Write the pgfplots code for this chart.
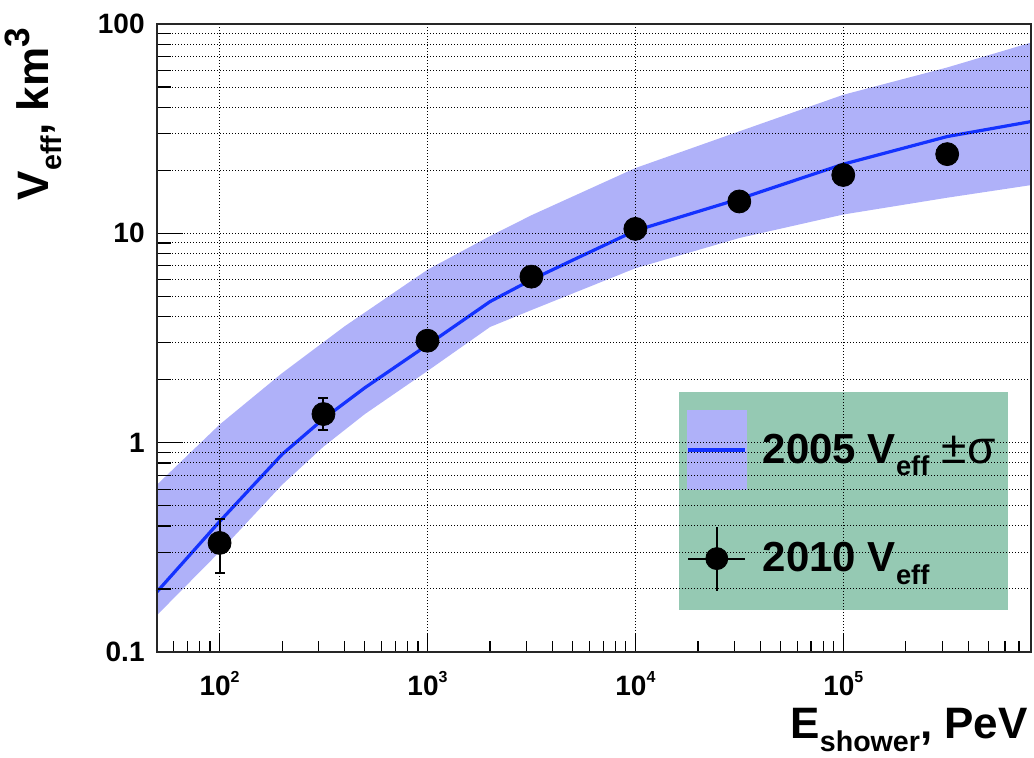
\documentclass[border=0pt]{standalone}
\usepackage{fontspec}
\setmainfont{Liberation Sans}
\usepackage{graphicx}
\usepackage{pgfplots}
\pgfplotsset{compat=1.18}
\usepgfplotslibrary{fillbetween}

\definecolor{bandBlue}{RGB}{175,177,249}
\definecolor{lineBlue}{RGB}{20,50,255}
\definecolor{legGreen}{RGB}{149,201,179}
\definecolor{frameRed}{RGB}{215,40,20}

\newcommand{\lsub}[1]{\raisebox{-0.3em}{\scalebox{0.65}{#1}}}
\newcommand{\lsup}[1]{\raisebox{0.42em}{\scalebox{0.8}{#1}}}
\newcommand{\tsup}[1]{\raisebox{0.46em}{\scalebox{0.57}{#1}}}

\begin{document}
\begin{tikzpicture}
  \begin{axis}[
      at={(0,0)}, anchor=south west,
      scale only axis, width=437pt, height=314pt,
      xmode=log, ymode=log,
      xmin=50, xmax=8e5, ymin=0.1, ymax=100,
      clip=false, axis on top,
      tick pos=left, tick align=inside,
      major tick length=13pt, minor tick length=7pt,
      xtick style={/pgfplots/major tick length=9pt, /pgfplots/minor tick length=5.5pt},
      every tick/.style={black, line width=0.6pt},
      xtick={100,1000,10000,100000},
      xticklabels={10\tsup{2},10\tsup{3},10\tsup{4},10\tsup{5}},
      minor xtick={60,70,80,90,200,300,400,500,600,700,800,900,
        2000,3000,4000,5000,6000,7000,8000,9000,
        20000,30000,40000,50000,60000,70000,80000,90000,
        200000,300000,400000,500000,600000,700000},
      ytick={0.1,1,10,100},
      yticklabels={0.1,1,10,100},
      minor ytick={0.2,0.3,0.4,0.5,0.6,0.7,0.8,0.9,2,3,4,5,6,7,8,9,20,30,40,50,60,70,80,90},
      xmajorgrids, ymajorgrids, yminorgrids,
      grid style={black, line width=0.5pt, dash pattern=on 0.5pt off 1pt},
      minor grid style={black, line width=0.5pt, dash pattern=on 0.5pt off 1pt},
      axis line style={black!85, line width=0.7pt},
      tick label style={font=\fontsize{14}{14}\selectfont\bfseries, inner sep=0pt},
      xticklabel style={anchor=base, yshift=-21.5pt},
      yticklabel style={anchor=east, xshift=-6pt},
      xlabel={E\lsub{shower}, PeV},
      ylabel={V\lsub{eff}, km\lsup{3}},
      xlabel style={at={(axis description cs:0.9966,-0.137)}, anchor=base east,
        inner sep=0pt, font=\fontsize{22}{22}\selectfont\bfseries},
      ylabel style={at={(axis description cs:-0.1247,0.994)}, anchor=base east,
        inner sep=0pt, font=\fontsize{22}{22}\selectfont\bfseries},
      legend cell align=left,
      legend style={at={(axis description cs:0.9737,0.0669)}, anchor=south east,
        fill=legGreen, draw=none, inner xsep=4pt, inner ysep=9pt, row sep=18pt,
        font=\fontsize{21}{23}\selectfont\bfseries,
        /tikz/every odd column/.append style={column sep=6pt}},
    ]
    % 2005 band (+-sigma)
    \addplot[name path=upper, draw=none, forget plot] coordinates {
      (50,0.63) (100,1.22) (200,2.15) (400,3.6) (1000,6.7) (2000,9.7)
      (3162,12.2) (10000,20.5) (31623,30.7) (100000,45.9) (316228,62) (800000,81.5)};
    \addplot[name path=lower, draw=none, forget plot] coordinates {
      (50,0.150) (100,0.301) (200,0.63) (316,0.957) (500,1.37) (1000,2.2)
      (2000,3.57) (3162,4.3) (10000,6.81) (31623,9.5) (100000,12.3) (316228,14.8) (800000,17.0)};
    \addplot[bandBlue, forget plot] fill between[of=upper and lower];
    % 2005 Veff
    \addplot[lineBlue, line width=1.6pt,
      legend image code/.code={
        \fill[bandBlue] (0pt,-19pt) rectangle (28.5pt,19pt);
        \draw[lineBlue, line width=1.6pt] (0pt,0pt) -- (28.5pt,0pt);}]
      coordinates {
      (50,0.194) (100,0.42) (200,0.88) (316,1.30) (500,1.83) (1000,2.93)
      (2000,4.72) (3162,6.0) (5000,7.45) (10000,10.3) (31623,14.6)
      (100000,21.4) (316228,29.0) (800000,34.2)};
    \addlegendentry{2005 V\lsub{eff}\hspace{0.3em}{\mdseries\fontsize{23}{23}\selectfont ±σ}}
    % 2010 Veff
    \addplot[only marks, mark=*, mark size=5.75pt, black,
      error bars/.cd, y dir=both, y explicit,
      error bar style={line width=1pt, black},
      error mark options={rotate=90, mark size=2.5pt, line width=1pt},
      /pgfplots/legend image code/.code={
        \draw[black, line width=1pt] (0pt,0pt) -- (28.5pt,0pt) (14.25pt,-16pt) -- (14.25pt,16pt);
        \fill[black] (14.25pt,0pt) circle (5.5pt);}]
      coordinates {
      (100,0.332) +=(0,0.10) -=(0,0.094)
      (316,1.37) +=(0,0.26) -=(0,0.22)
      (1000,3.07) +=(0,0.15) -=(0,0.15)
      (3162,6.21) +=(0,0.35) -=(0,0.35)
      (10000,10.5) +=(0,0) -=(0,0)
      (31623,14.2) +=(0,0) -=(0,0)
      (100000,19.0) +=(0,0) -=(0,0)
      (316228,23.9) +=(0,0) -=(0,0)};
    \addlegendentry{2010 V\lsub{eff}}
    \draw[frameRed, line width=1pt] (rel axis cs:0,0) -- (rel axis cs:1,0) -- (rel axis cs:1,1);
  \end{axis}
  \pgfresetboundingbox
  \path[use as bounding box] (-78.5pt,-52.5pt) rectangle (438.5pt,326pt);
\end{tikzpicture}
\end{document}
